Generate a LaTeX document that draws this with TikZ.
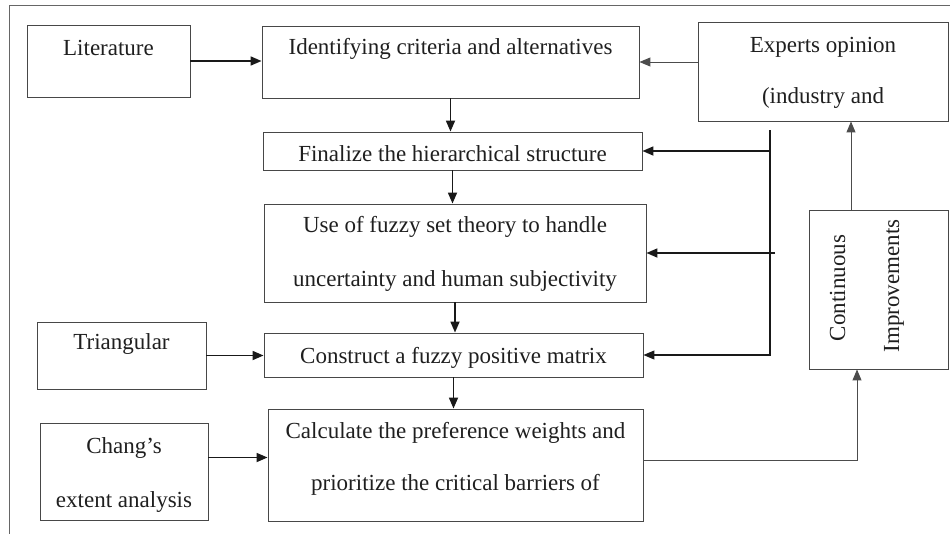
\documentclass[tikz,border=0pt]{standalone}
\usepackage{fontspec}
\setmainfont{Liberation Serif}
\usetikzlibrary{arrows.meta}
\begin{document}
\begin{tikzpicture}[x=1pt,y=-1pt,
  box/.style={draw=black!72, line width=0.9pt, inner sep=0pt},
  txt/.style={anchor=base, inner sep=0pt, text=black!88, font=\fontsize{23}{27}\selectfont},
  arr/.style={draw=black!90, line width=1.7pt, -{Triangle[length=11pt,width=9pt]}},
  thinarr/.style={draw=black!70, line width=1pt, -{Triangle[length=11pt,width=9pt]}},
  busline/.style={draw=black!90, line width=1.1pt}
]
\useasboundingbox (0,0) rectangle (950,533);
\draw[draw=black!60, line width=0.9pt] (9,534) -- (9,5) -- (951,5);

% boxes
\node[box, minimum width=163pt, minimum height=72pt] (lit) at (108.5,61) {};
\node[box, minimum width=377pt, minimum height=72pt] (ident) at (450.5,62) {};
\node[box, minimum width=250pt, minimum height=99pt] (exp) at (823,71.5) {};
\node[box, minimum width=379pt, minimum height=38pt] (fin) at (452.5,151) {};
\node[box, minimum width=382pt, minimum height=98pt] (use) at (455,253) {};
\node[box, minimum width=169pt, minimum height=67pt] (tri) at (121.5,355.5) {};
\node[box, minimum width=379pt, minimum height=44pt] (con) at (453.5,355) {};
\node[box, minimum width=168pt, minimum height=97pt] (chang) at (124,471.5) {};
\node[box, minimum width=375pt, minimum height=112pt] (calc) at (455.5,465) {};
\node[box, minimum width=139pt, minimum height=159pt] (ci) at (878.5,289.5) {};

% texts
\node[txt] (litT) at (108.5,55) {Literature};
\node[txt] (identT) at (450.5,54) {Identifying criteria and alternatives};
\node[txt] (expT1) at (823,52) {Experts opinion};
\node[txt] (expT2) at (823,103) {(industry and};
\node[txt] (finT) at (452.5,161) {Finalize the hierarchical structure};
\node[txt] (useT1) at (455,232) {Use of fuzzy set theory to handle};
\node[txt] (useT2) at (455,286) {uncertainty and human subjectivity};
\node[txt] (triT) at (121.5,349) {Triangular};
\node[txt] (conT) at (453.5,363) {Construct a fuzzy positive matrix};
\node[txt] (changT1) at (124,453) {Chang’s};
\node[txt] (changT2) at (124,507) {extent analysis};
\node[txt] (calcT1) at (455.5,438) {Calculate the preference weights and};
\node[txt] (calcT2) at (455.5,490) {prioritize the critical barriers of};
\node[txt, rotate=90] (ciT1) at (845,288) {Continuous};
\node[txt, rotate=90] (ciT2) at (899,286) {Improvements};

% connectors
\draw[arr] (lit.east) -- (lit.east -| ident.west);
\draw[thinarr] (exp.west |- ident.east) -- (ident.east);
\draw[arr] (ident.south) -- (ident.south |- fin.north);
\draw[arr] (fin.south) -- (fin.south |- use.north);
\draw[arr] (use.south) -- (use.south |- con.north);
\draw[arr] (con.south) -- (con.south |- calc.north);

\coordinate (bt) at (770,130);
\draw[busline, -{Triangle[length=11pt,width=9pt]}] (bt) |- (con.east);
\draw[arr] (bt |- fin.east) -- (fin.east);
\draw[arr] ([xshift=5pt]bt |- use.east) -- (use.east);

\draw[thinarr] ([xshift=-27.5pt]ci.north) -- ([xshift=-27.5pt]ci.north |- exp.south);
\draw[thinarr] ([yshift=5pt]calc.east) -| ([xshift=-21.5pt]ci.south);

\draw[arr] (tri.east) -- (tri.east -| con.west);
\draw[arr] ([yshift=14pt]chang.east) -- ([yshift=14pt]chang.east -| calc.west);
\end{tikzpicture}
\end{document}
